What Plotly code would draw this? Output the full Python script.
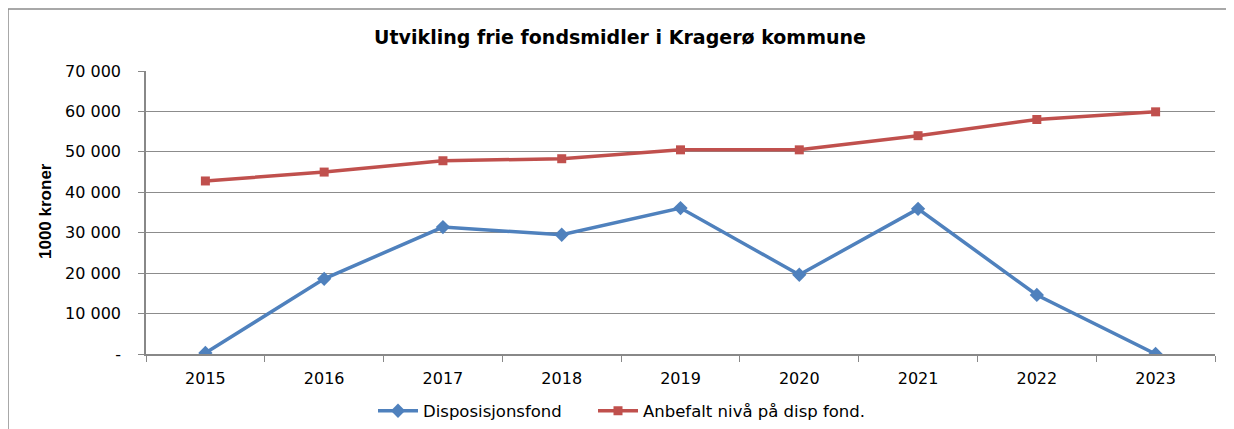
import plotly.graph_objects as go

years = ["2015", "2016", "2017", "2018", "2019", "2020", "2021", "2022", "2023"]
disposisjonsfond = [250, 18600, 31400, 29500, 36100, 19600, 35900, 14600, 0]
anbefalt = [42800, 45000, 47800, 48300, 50500, 50500, 54000, 58000, 59900]
y_tickvals = [0, 10000, 20000, 30000, 40000, 50000, 60000, 70000]
y_ticktext = ["-", "10 000", "20 000", "30 000", "40 000", "50 000", "60 000", "70 000"]

OFF = 8  # page body margin
W, H = 1234 - OFF, 429 - OFF
L, T = 146 - OFF, 71 - OFF
R = W - (1215 - OFF)
B = H - (354 - OFF)
pw, ph = W - L - R, H - T - B

def px_x(x):
    return (x - OFF - L) / pw

def px_y(y):
    return (H - B - (y - OFF)) / ph

font = "Verdana, DejaVu Sans, sans-serif"

fig = go.Figure()
fig.add_trace(go.Scatter(
    x=years, y=disposisjonsfond, name="Disposisjonsfond", mode="lines+markers",
    line=dict(color="#4F81BD", width=3.5),
    marker=dict(symbol="diamond", size=11, color="#4F81BD"),
    legend="legend",
))
fig.add_trace(go.Scatter(
    x=years, y=anbefalt, name="Anbefalt nivå på disp fond.", mode="lines+markers",
    line=dict(color="#C0504D", width=3.5),
    marker=dict(symbol="square", size=9, color="#C0504D"),
    legend="legend2",
))

legend_common = dict(orientation="h", xref="container", yref="container",
                     xanchor="left", y=1 - (411 - OFF) / H, yanchor="middle",
                     font=dict(family=font, size=16.5, color="black"), itemwidth=40,
                     bgcolor="rgba(0,0,0,0)")

fig.update_layout(
    template="none",
    width=W, height=H,
    margin=dict(l=L, r=R, t=T, b=B, autoexpand=False),
    paper_bgcolor="white", plot_bgcolor="white",
    title=dict(text="<b>Utvikling frie fondsmidler i Kragerø kommune</b>",
               x=(620 - OFF) / W, xanchor="center", y=1 - (37 - OFF) / H, yanchor="middle",
               font=dict(family=font, size=19, color="black")),
    showlegend=True,
    legend=dict(x=(373 - OFF) / W, **legend_common),
    legend2=dict(x=(593 - OFF) / W, **legend_common),
    xaxis=dict(type="category", range=[-0.5, 8.5], showgrid=False, automargin=False,
               showline=True, linecolor="#888888", linewidth=1.5,
               ticks="outside", tickson="boundaries", ticklen=6, tickcolor="#888888",
               ticklabelstandoff=9,
               tickfont=dict(family=font, size=16, color="black")),
    yaxis=dict(range=[0, 70000], tickvals=y_tickvals, ticktext=y_ticktext, automargin=False,
               showgrid=True, gridcolor="#8c8c8c", gridwidth=1.2,
               showline=True, linecolor="#888888", linewidth=1.5,
               ticks="outside", ticklen=6, tickcolor="#888888",
               ticklabelstandoff=14,
               tickfont=dict(family=font, size=16, color="black"), zeroline=False),
    annotations=[dict(text="<b>1000 kroner</b>", textangle=-90, xref="paper", yref="paper",
                      x=px_x(45), y=px_y(211), xanchor="center", yanchor="middle",
                      showarrow=False,
                      font=dict(family="Liberation Sans Narrow, Liberation Sans, sans-serif", size=17, color="black"))],
    shapes=[dict(type="path", xref="paper", yref="paper",
                 path=f"M {px_x(8)} {px_y(440)} L {px_x(8)} {px_y(9)} L {px_x(1240)} {px_y(9)}",
                 line=dict(color="#8c8c8c", width=1.5))],
)

fig.write_html("out.html")
